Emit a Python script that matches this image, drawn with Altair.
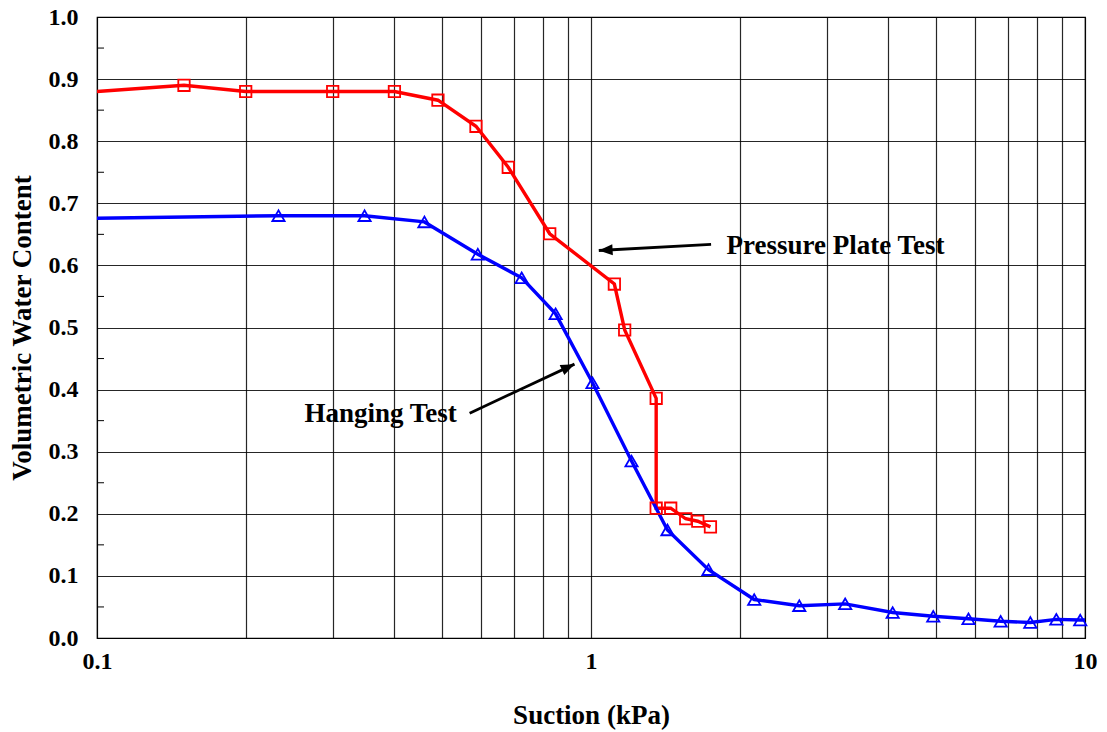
import altair as alt
import pandas as pd

# Pressure plate test (red squares)
red_x = [0.15, 0.2, 0.3, 0.4, 0.49, 0.585, 0.68, 0.825, 1.115, 1.17, 1.355, 1.355, 1.45, 1.555, 1.645, 1.745]
red_y = [0.890, 0.880, 0.880, 0.880, 0.866, 0.824, 0.758, 0.651, 0.570, 0.496, 0.386, 0.209, 0.209, 0.192, 0.188, 0.179]
red_line_start = (0.1, 0.88)

# Hanging test (blue triangles)
blue_x = [0.233, 0.348, 0.46, 0.59, 0.724, 0.848, 1.007, 1.208, 1.428, 1.729, 2.14, 2.64, 3.27, 4.08, 4.93, 5.81, 6.75, 7.75, 8.75, 9.78]
blue_y = [0.680, 0.680, 0.670, 0.618, 0.580, 0.522, 0.411, 0.285, 0.174, 0.110, 0.062, 0.052, 0.055, 0.041, 0.035, 0.031, 0.027, 0.025, 0.030, 0.029]
blue_line_start = (0.1, 0.676)
blue_line_end = (10.0, 0.029)

x_ticks = [0.1, 0.2, 0.3, 0.4, 0.5, 0.6, 0.7, 0.8, 0.9, 1, 2, 3, 4, 5, 6, 7, 8, 9, 10]
y_ticks = [0.0, 0.1, 0.2, 0.3, 0.4, 0.5, 0.6, 0.7, 0.8, 0.9, 1.0]
y_minor = [0.05, 0.15, 0.25, 0.35, 0.45, 0.55, 0.65, 0.75, 0.85, 0.95]

labels = ["Pressure Plate Test", "Hanging Test"]
label_x = [1.88, 0.263]
label_y = [0.631, 0.361]
arrow_tail_x = [1.75, 0.568]
arrow_tail_y = [0.634, 0.362]
arrow_tip_x = [1.037, 0.926]
arrow_tip_y = [0.624, 0.441]
arrow_angle = [177, 335]

FONT = "Liberation Serif"

red_line = pd.DataFrame({"x": [red_line_start[0]] + red_x, "y": [red_line_start[1]] + red_y})
red_line["o"] = range(len(red_line))
blue_line = pd.DataFrame({"x": [blue_line_start[0]] + blue_x + [blue_line_end[0]],
                          "y": [blue_line_start[1]] + blue_y + [blue_line_end[1]]})
blue_line["o"] = range(len(blue_line))
red_pts = pd.DataFrame({"x": red_x, "y": red_y})
blue_pts = pd.DataFrame({"x": blue_x, "y": blue_y})

xscale = alt.Scale(type="log", domain=[0.1, 10], nice=False)
yscale = alt.Scale(domain=[0, 1], nice=False)

label_expr = "datum.value == 0.1 ? '0.1' : (datum.value == 1 ? '1' : (datum.value == 10 ? '10' : ''))"

xaxis = alt.Axis(values=x_ticks, labelExpr=label_expr, grid=True, gridColor="#000", gridWidth=1.2,
                 gridOpacity=0.85, ticks=False, domain=False, title="Suction (kPa)",
                 labelFont=FONT, labelFontSize=24, labelFontWeight="bold", labelColor="#000",
                 labelPadding=11, titleFont=FONT, titleFontSize=27, titleFontWeight="bold",
                 titleColor="#000", titlePadding=29, labelFlush=False, labelOverlap=False)
yaxis = alt.Axis(values=y_ticks, format=".1f", grid=True, gridColor="#000", gridWidth=1.2,
                 gridOpacity=0.85, ticks=False, domain=False, title="Volumetric Water Content",
                 labelFont=FONT, labelFontSize=24, labelFontWeight="bold", labelColor="#000",
                 labelPadding=19, titleFont=FONT, titleFontSize=27, titleFontWeight="bold",
                 titleColor="#000", titlePadding=12)

base_x = alt.X("x:Q", scale=xscale, axis=xaxis)
base_y = alt.Y("y:Q", scale=yscale, axis=yaxis)

grid = alt.Chart(red_pts).mark_point(opacity=0).encode(x=base_x, y=base_y)

minor = alt.Chart(pd.DataFrame({"y": y_minor})).mark_rule(color="#000", strokeWidth=1).encode(
    x=alt.value(0), x2=alt.value(7), y=alt.Y("y:Q", scale=yscale))

red_l = alt.Chart(red_line).mark_line(color="#ff0000", strokeWidth=3.4, clip=True).encode(
    x=alt.X("x:Q", scale=xscale), y=alt.Y("y:Q", scale=yscale), order="o:Q")
blue_l = alt.Chart(blue_line).mark_line(color="#0000ff", strokeWidth=3.4, clip=True).encode(
    x=alt.X("x:Q", scale=xscale), y=alt.Y("y:Q", scale=yscale), order="o:Q")
red_p = alt.Chart(red_pts).mark_point(shape="square", size=130, color="#ff0000", filled=False,
                                      strokeWidth=1.8, opacity=1).encode(
    x=alt.X("x:Q", scale=xscale), y=alt.Y("y:Q", scale=yscale))
blue_p = alt.Chart(blue_pts).mark_point(shape="triangle-up", size=150, color="#0000ff", filled=False,
                                        strokeWidth=1.8, opacity=1).encode(
    x=alt.X("x:Q", scale=xscale), y=alt.Y("y:Q", scale=yscale))

arrows = pd.DataFrame({"x": arrow_tail_x, "y": arrow_tail_y, "x2": arrow_tip_x, "y2": arrow_tip_y,
                       "angle": arrow_angle, "label": labels, "lx": label_x, "ly": label_y})
shaft = alt.Chart(arrows).mark_rule(color="#000", strokeWidth=2.8).encode(
    x=alt.X("x:Q", scale=xscale), y=alt.Y("y:Q", scale=yscale),
    x2="x2:Q", y2="y2:Q")
head = alt.Chart(arrows).mark_point(shape="M0,0L-2,-0.8L-2,0.8Z", size=190, filled=True,
                                    color="#000", opacity=1).encode(
    x=alt.X("x2:Q", scale=xscale), y=alt.Y("y2:Q", scale=yscale),
    angle=alt.Angle("angle:Q", scale=None))
text = alt.Chart(arrows).mark_text(font=FONT, fontSize=27, fontWeight="bold", color="#000",
                                   align="left", baseline="middle").encode(
    x=alt.X("lx:Q", scale=xscale), y=alt.Y("ly:Q", scale=yscale), text="label:N")

chart = alt.layer(grid, minor, red_l, blue_l, red_p, blue_p, shaft, head, text).properties(
    width=988, height=621,
    autosize=alt.AutoSizeParams(type="none"),
    padding={"left": 97, "top": 17, "right": 22, "bottom": 94},
    background="#ffffff",
).configure_view(stroke="#000", strokeWidth=1.2)

chart.save("out.html", embed_options={"renderer": "svg", "actions": False})
